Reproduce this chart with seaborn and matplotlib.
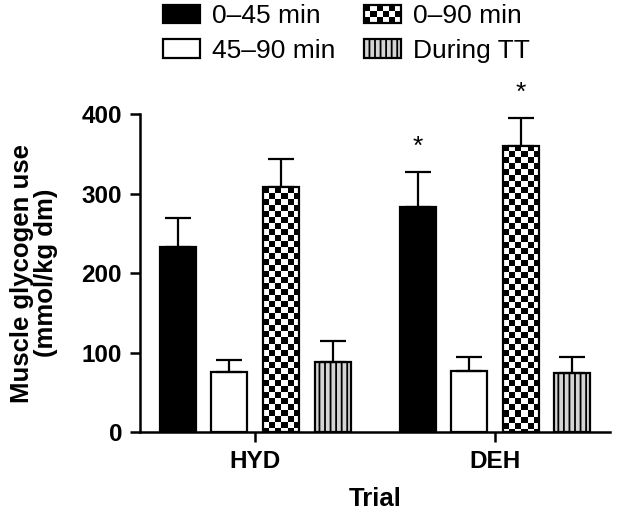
import numpy as np
import pandas as pd
import matplotlib
matplotlib.use('Agg')
import matplotlib.pyplot as plt
import seaborn as sns
from matplotlib.patches import Patch, Rectangle
from matplotlib.legend_handler import HandlerBase

# values (mean + upward SEM)
trials = ['HYD', 'DEH']
periods = ['0–45 min', '45–90 min', '0–90 min', 'During TT']
hyd_mean = [233, 76, 308, 88]
hyd_sem = [36, 15, 35, 26]
deh_mean = [283, 77, 360, 74]
deh_sem = [44, 17, 35, 20]
starred = [('DEH', '0–45 min'), ('DEH', '0–90 min')]

df = pd.DataFrame({
    'Trial': np.repeat(trials, len(periods)),
    'Period': periods * len(trials),
    'use': hyd_mean + deh_mean,
    'sem': hyd_sem + deh_sem,
})

sns.set_theme(style='ticks')
plt.rcParams['font.family'] = ['Liberation Sans', 'DejaVu Sans']
plt.rcParams['hatch.linewidth'] = 1.3
plt.rcParams['text.color'] = 'black'
plt.rcParams['axes.labelcolor'] = 'black'

fig = plt.figure(figsize=(6.17, 5.19), dpi=100)
ax = fig.add_axes([0.227, 0.1676, 0.762, 0.6127])

fills = ['black', 'white', 'white', '#d4d4d4']
sns.barplot(data=df, x='Trial', y='use', hue='Period', order=trials,
            hue_order=periods, palette=fills, saturation=1, width=0.86,
            gap=0.3, errorbar=None, edgecolor='black', linewidth=1.6,
            legend=False, ax=ax)

ax.set_xlim(-0.48, 1.48)
ax.set_ylim(0, 400)
ax.set_yticks([0, 100, 200, 300, 400])

slot = 0.86 / len(periods)
for p in list(ax.patches):
    cx = p.get_x() + p.get_width() / 2
    ti = int(round(cx))
    hi = int(round((cx - ti) / slot + 1.5))
    row = df[(df['Trial'] == trials[ti]) & (df['Period'] == periods[hi])].iloc[0]
    top = row['use']
    ax.errorbar(cx, top, yerr=[[0], [row['sem']]], fmt='none', ecolor='black',
                elinewidth=1.6, capsize=9.5, capthick=1.6, zorder=1)
    if (trials[ti], periods[hi]) in starred:
        ax.text(cx, top + row['sem'] + 17, '*', ha='center', va='bottom',
                fontsize=19, clip_on=False)
    if periods[hi] == 'During TT':
        p.set_hatch('|||')
    if periods[hi] == '0–90 min':
        # checkerboard fill, clipped to the bar
        x0, w, h = p.get_x(), p.get_width(), p.get_height()
        px0 = ax.transData.transform((x0, 0))
        px1 = ax.transData.transform((x0 + w, h))
        ncols = 6
        sq = (px1[0] - px0[0]) / ncols
        hpx = abs(px1[1] - px0[1])
        nrows = int(np.ceil(hpx / sq))
        board = np.add.outer(np.arange(nrows), np.arange(ncols)) % 2
        sq_data = sq * h / hpx
        ax.imshow(board, cmap='gray', interpolation='nearest', aspect='auto',
                  origin='upper', extent=(x0, x0 + w, h - nrows * sq_data, h),
                  clip_path=p, zorder=2)
        p.set_facecolor('none')
        p.set_zorder(3)

ax.set_xlim(-0.48, 1.48)
ax.set_ylim(0, 400)

sns.despine(ax=ax)
for s in ['left', 'bottom']:
    ax.spines[s].set_linewidth(1.8)
    ax.spines[s].set_color('black')
ax.tick_params(axis='both', direction='out', length=7, width=1.8,
               colors='black', labelsize=17.5, pad=6)
for lab in ax.get_xticklabels() + ax.get_yticklabels():
    lab.set_fontweight('bold')
ax.set_xlabel('Trial', fontsize=18.5, fontweight='bold', labelpad=10)
ax.set_ylabel('Muscle glycogen use\n(mmol/kg dm)', fontsize=18.5,
              fontweight='bold', labelpad=17, linespacing=1.0)


class CheckerHandler(HandlerBase):
    def create_artists(self, legend, orig_handle, xdescent, ydescent,
                       width, height, fontsize, trans):
        nc, nr = 6, 3
        cw, ch = width / nc, height / nr
        arts = [Rectangle((-xdescent, -ydescent), width, height,
                          facecolor='white', edgecolor='none', transform=trans)]
        for i in range(nr):
            for j in range(nc):
                if (i + j) % 2 == 0:
                    arts.append(Rectangle((-xdescent + j * cw, -ydescent + i * ch),
                                          cw, ch, facecolor='black',
                                          edgecolor='none', transform=trans))
        arts.append(Rectangle((-xdescent, -ydescent), width, height,
                              facecolor='none', edgecolor='black', lw=1.6,
                              transform=trans))
        return arts


h_black = Patch(facecolor='black', edgecolor='black', lw=1.6, label=periods[0])
h_white = Patch(facecolor='white', edgecolor='black', lw=1.6, label=periods[1])
h_check = Patch(facecolor='white', edgecolor='black', lw=1.6, label=periods[2])
h_gray = Patch(facecolor='#d4d4d4', edgecolor='black', lw=1.6, hatch='|||',
               label=periods[3])
fig.legend(handles=[h_black, h_white, h_check, h_gray],
           handler_map={h_check: CheckerHandler()}, ncol=2, frameon=False,
           loc='upper left', bbox_to_anchor=(163 / 617, 1 - 4 / 519),
           borderpad=0, borderaxespad=0, fontsize=19, handlelength=1.4,
           handleheight=0.7, handletextpad=0.45, columnspacing=1.1,
           labelspacing=0.4)

fig.savefig('out.png', dpi=100)
